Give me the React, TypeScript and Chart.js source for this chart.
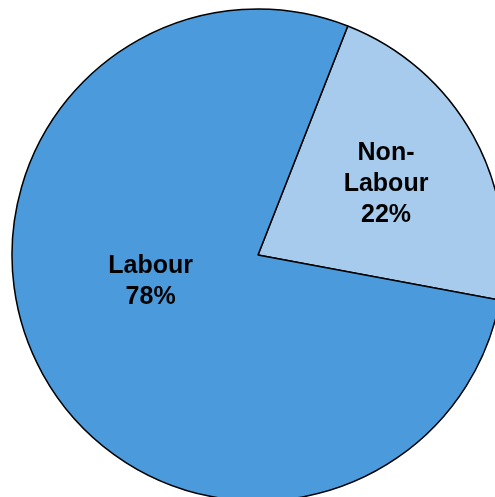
import React, { useEffect, useRef } from "react";
import { Chart, registerables } from "chart.js";

Chart.register(...registerables);

const categories = ["Non-Labour", "Labour"];
const shares = [22, 78];
const labelLines = [["Non-", "Labour", "22%"], ["Labour", "78%"]];
const sliceColors = ["#A7CBEC", "#4B9ADB"];

const labelPlugin = {
  id: "sliceLabels",
  afterDatasetsDraw(chart: any, _args: any, opts: any) {
    const meta = chart.getDatasetMeta(0);
    const ctx = chart.ctx;
    ctx.save();
    ctx.font = `bold ${opts.size}px "Liberation Sans", Arial, sans-serif`;
    ctx.fillStyle = "#000";
    ctx.textAlign = "center";
    ctx.textBaseline = "middle";
    meta.data.forEach((arc: any, i: number) => {
      const p = arc.getProps(["x", "y", "outerRadius"], true);
      const place = opts.places[i];
      const a = (place.angle * Math.PI) / 180;
      const cx = p.x + Math.sin(a) * p.outerRadius * place.r;
      const cy = p.y - Math.cos(a) * p.outerRadius * place.r;
      const lines = labelLines[i];
      const lh = opts.lineHeight;
      lines.forEach((t, j) => {
        ctx.fillText(t, cx, cy + (j - (lines.length - 1) / 2) * lh);
      });
    });
    ctx.restore();
  },
};

export default function App() {
  const ref = useRef<HTMLCanvasElement>(null);
  useEffect(() => {
    document.body.style.margin = "0";
    const chart = new Chart(ref.current!, {
      type: "pie",
      data: {
        labels: categories,
        datasets: [
          {
            data: shares,
            backgroundColor: sliceColors,
            borderColor: "#000",
            borderWidth: 1.5,
            radius: 246,
            clip: false,
          } as any,
        ],
      },
      options: {
        animation: false,
        responsive: false,
        rotation: 21.4,
        layout: { padding: { left: 21, top: 13, right: 0, bottom: 0 } },
        plugins: {
          legend: { display: false },
          tooltip: { enabled: false },
          sliceLabels: {
            size: 25,
            lineHeight: 31,
            places: [
              { angle: 61, r: 0.595 },
              { angle: 256, r: 0.45 },
            ],
          },
        } as any,
      },
      plugins: [labelPlugin],
    });
    return () => chart.destroy();
  }, []);
  return (
    <div style={{ width: 495, height: 497, overflow: "hidden" }}>
      <canvas ref={ref} width={495} height={497} style={{ display: "block" }} />
    </div>
  );
}
